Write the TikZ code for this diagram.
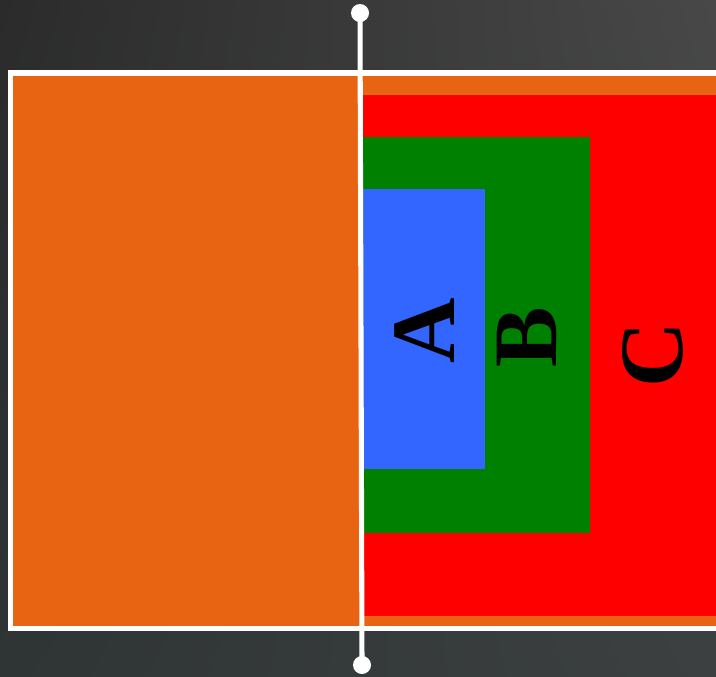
\documentclass[tikz,border=0pt]{standalone}
\usepackage{fontspec}
\setmainfont{Liberation Serif}
\usetikzlibrary{shadings}
\definecolor{bgdark}{HTML}{2B2B2B}
\definecolor{bglight}{HTML}{484848}
\definecolor{bgbotl}{HTML}{2F3435}
\definecolor{bgbotr}{HTML}{3C4041}
\definecolor{boxorange}{HTML}{E86412}
\definecolor{boxred}{HTML}{FF0000}
\definecolor{boxgreen}{HTML}{008000}
\definecolor{boxblue}{HTML}{3366FF}
\tikzset{
  letter/.style={rotate=90,inner sep=0pt,font=\fontsize{68}{68}\selectfont\bfseries},
  wline/.style={white,line width=3.8pt},
}
\begin{document}
\begin{tikzpicture}[x=0.75pt,y=-0.75pt]
\useasboundingbox (0,0) rectangle (716,676);
\shade[upper left=bgdark,upper right=bglight,lower left=bgbotl,lower right=bgbotr] (0,0) rectangle (716,676);
% nested boxes
\fill[boxorange] (10,73) rectangle (720,628);
\fill[boxred] (362,95) rectangle (720,616);
\fill[boxgreen] (362,137) rectangle (590,533);
\fill[boxblue] (362,189) rectangle (485,469);
\draw[wline] (10.5,73) rectangle (720,628.5);
% labels
\node[letter] (lA) at (425,331) {A};
\node[letter] (lB) at (527,337) {B};
\node[letter] (lC) at (653,355) {C};
% divider
\coordinate (top) at (360,13);
\coordinate (bot) at (362,665);
\draw[wline] (top) -- (bot);
\fill[white] (top) circle (9);
\fill[white] (bot) circle (9);
\end{tikzpicture}
\end{document}
